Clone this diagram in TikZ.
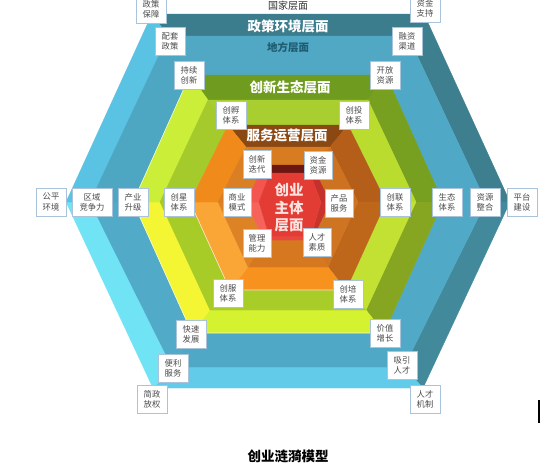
\documentclass[tikz,border=0pt]{standalone}
\usepackage{fontspec}
\newfontfamily\cjk{Noto Sans CJK SC}
% ring colours: t=top, ur, lr, b=bottom, ll, ul
\definecolor{aT}{HTML}{3C7D8D}\definecolor{aUR}{HTML}{3D7E8F}\definecolor{aLR}{HTML}{428A9B}
\definecolor{aB}{HTML}{62CBEA}\definecolor{aLL}{HTML}{70E3F5}\definecolor{aUL}{HTML}{5AC2E2}
\definecolor{bT}{HTML}{51A8C4}\definecolor{bUR}{HTML}{4FA8C5}\definecolor{bLR}{HTML}{50AAC7}
\definecolor{bB}{HTML}{4FA8C5}\definecolor{bLL}{HTML}{51AAC7}\definecolor{bUL}{HTML}{4DA6C2}
\definecolor{cT}{HTML}{6F9C1F}\definecolor{cUR}{HTML}{77A020}\definecolor{cLR}{HTML}{86A622}
\definecolor{cB}{HTML}{D4F22F}\definecolor{cLL}{HTML}{F4F533}\definecolor{cUL}{HTML}{CBEE38}
\definecolor{dT}{HTML}{A8CF2F}\definecolor{dUR}{HTML}{BADC2E}\definecolor{dLR}{HTML}{C2E132}
\definecolor{dB}{HTML}{A8CC28}\definecolor{dLL}{HTML}{A7CC28}\definecolor{dUL}{HTML}{A4CB2B}
\definecolor{eT}{HTML}{8A4813}\definecolor{eUR}{HTML}{B55E19}\definecolor{eLR}{HTML}{BE661A}
\definecolor{eB}{HTML}{F7921E}\definecolor{eLL}{HTML}{FAA637}\definecolor{eUL}{HTML}{F08A1B}
\definecolor{fT}{HTML}{D87C21}\definecolor{fUR}{HTML}{CC7220}\definecolor{fLR}{HTML}{CF7420}
\definecolor{fB}{HTML}{D5781F}\definecolor{fLL}{HTML}{DD8326}\definecolor{fUL}{HTML}{DA7F23}
\definecolor{gT}{HTML}{6C1712}\definecolor{gUR}{HTML}{C4302A}\definecolor{gLR}{HTML}{C8342C}
\definecolor{gB}{HTML}{E94840}\definecolor{gLL}{HTML}{F5635A}\definecolor{gUL}{HTML}{F2564E}
\definecolor{gFace}{HTML}{E23C35}
\definecolor{lblb}{HTML}{A9C3DA}\definecolor{lblt}{HTML}{4A4A4A}
\definecolor{difang}{HTML}{1E5C70}\definecolor{redtxt}{HTML}{FCE3DF}
\newcommand{\hexpts}[7]{%
  \coordinate (#1TL) at ({#2-#5},#3);
  \coordinate (#1TR) at ({#2+#5},#3);
  \coordinate (#1R) at ({#2+#7},202);
  \coordinate (#1BR) at ({#2+#6},#4);
  \coordinate (#1BL) at ({#2-#6},#4);
  \coordinate (#1L) at ({#2-#7},202);}
\newcommand{\ringfill}[8]{%
  \filldraw[fill=#3,draw=#3,line width=0.3pt] (#1TL) -- (#1TR) -- (#2TR) -- (#2TL) -- cycle;
  \filldraw[fill=#4,draw=#4,line width=0.3pt] (#1TR) -- (#1R) -- (#2R) -- (#2TR) -- cycle;
  \filldraw[fill=#5,draw=#5,line width=0.3pt] (#1R) -- (#1BR) -- (#2BR) -- (#2R) -- cycle;
  \filldraw[fill=#6,draw=#6,line width=0.3pt] (#1BR) -- (#1BL) -- (#2BL) -- (#2BR) -- cycle;
  \filldraw[fill=#7,draw=#7,line width=0.3pt] (#1BL) -- (#1L) -- (#2L) -- (#2BL) -- cycle;
  \filldraw[fill=#8,draw=#8,line width=0.3pt] (#1L) -- (#1TL) -- (#2TL) -- (#2L) -- cycle;}
\begin{document}
\begin{tikzpicture}[x=1pt,y=-1pt,
  lbl/.style={draw=lblb, fill=white, line width=0.6pt, text=lblt,
    font=\cjk\fontsize{8.3}{10.2}\selectfont, align=center,
    minimum width=30pt, minimum height=28pt, inner sep=1pt},
  lblw/.style={lbl, minimum width=40pt},
  ttl/.style={text=white, font=\cjk\bfseries\fontsize{13.5}{15}\selectfont},
  hl/.style={draw=white, line width=0.6pt, opacity=0.75}]
\useasboundingbox (0,0) rectangle (540,471);
\fill[white] (0,0) rectangle (540,471);
% boundary hexagons: name, cx, top, bottom, half-top, half-bottom, half-mid
\hexpts{hA}{288}{14}{388}{136}{135}{222}
\hexpts{hB}{288}{36}{367}{120}{116}{198}
\hexpts{hC}{288}{75}{333}{98}{96}{155}
\hexpts{hD}{288}{100}{310}{80}{78}{128}
\hexpts{hE}{288}{125}{290}{60}{58}{98}
\hexpts{hF}{288}{147}{267}{42}{40}{70}
\hexpts{hG}{288}{165}{240}{24}{24}{42}
\hexpts{hH}{290}{173}{236}{20}{21}{31}
% rings
\ringfill{hA}{hB}{aT}{aUR}{aLR}{aB}{aLL}{aUL}
\ringfill{hB}{hC}{bT}{bUR}{bLR}{bB}{bLL}{bUL}
\ringfill{hC}{hD}{cT}{cUR}{cLR}{cB}{cLL}{cUL}
\ringfill{hD}{hE}{dT}{dUR}{dLR}{dB}{dLL}{dUL}
\ringfill{hE}{hF}{eT}{eUR}{eLR}{eB}{eLL}{eUL}
\ringfill{hF}{hG}{fT}{fUR}{fLR}{fB}{fLL}{fUL}
\ringfill{hG}{hH}{gT}{gUR}{gLR}{gB}{gLL}{gUL}
\filldraw[fill=gFace,draw=gFace,line width=0.3pt] (hHTL) -- (hHTR) -- (hHR) -- (hHBR) -- (hHBL) -- (hHL) -- cycle;
% highlights
\draw[hl] (hCTL) -- (hCL) -- (hCBL) -- (hCBR);
\draw[hl] (hEL) -- (hEBL) -- (hEBR);
% artifact bar at right edge
\fill[black] (537.6,400) rectangle (539.6,423);
% layer titles
\node[text=black!80, font=\cjk\fontsize{10}{12}\selectfont] (tGuojia) at (288,5.5) {国家层面};
\node[ttl] (tZhengce) at (288,26) {政策环境层面};
\node[text=difang, font=\cjk\bfseries\fontsize{10.5}{12}\selectfont] (tDifang) at (288,47.5) {地方层面};
\node[ttl] (tShengtai) at (290,87) {创新生态层面};
\node[ttl] (tFuwu) at (287,135.5) {服务运营层面};
\node[text=redtxt, align=center, font=\cjk\bfseries\fontsize{14.5}{17.5}\selectfont] (tZhuti) at (289,208) {创业\\主体\\层面};
% outer labels (national)
\node[lbl] (zcbz) at (151,9) {政策\\保障};
\node[lbl] (zjzc) at (425,8) {资金\\支持};
\node[lbl] (gphj) at (51,202) {公平\\环境};
\node[lbl] (ptjs) at (522,202) {平台\\建设};
\node[lbl] (jzfq) at (152,399) {简政\\放权};
\node[lbl] (rcjz) at (425,399) {人才\\机制};
% local labels
\node[lbl] (ptzc) at (170,41) {配套\\政策};
\node[lbl] (rzqd) at (407,41) {融资\\渠道};
\node[lblw] (qyjz) at (92,202) {区域\\竞争力};
\node[lbl] (zyzh) at (485,202) {资源\\整合};
\node[lbl] (blfw) at (173,368) {便利\\服务};
\node[lbl] (xyrc) at (402,365) {吸引\\人才};
% ecosystem outer labels
\node[lbl] (cxcx) at (189,75) {持续\\创新};
\node[lbl] (kfzy) at (385,75) {开放\\资源};
\node[lbl] (cysj) at (133,202) {产业\\升级};
\node[lbl] (sttx) at (447,202) {生态\\体系};
\node[lbl] (ksfz) at (191,334) {快速\\发展};
\node[lbl] (jzzz) at (385,333) {价值\\增长};
% ecosystem inner labels
\node[lbl] (cfutx) at (231,115) {创孵\\体系};
\node[lbl] (cttx) at (354,115) {创投\\体系};
\node[lbl] (cxtx) at (179,202) {创星\\体系};
\node[lbl] (cltx) at (395,202) {创联\\体系};
\node[lbl] (cfwtx) at (228,293) {创服\\体系};
\node[lbl] (cptx) at (348,294) {创培\\体系};
% core labels
\node[lbl, minimum width=28pt] (cxdd) at (257,164) {创新\\迭代};
\node[lbl, minimum width=28pt] (zjzy) at (318,165) {资金\\资源};
\node[lbl, minimum width=28pt] (syms) at (237,202) {商业\\模式};
\node[lbl, minimum width=28pt] (cpfw) at (339,203) {产品\\服务};
\node[lbl, minimum width=28pt] (glnl) at (257,243) {管理\\能力};
\node[lbl, minimum width=28pt] (rcsz) at (317,242) {人才\\素质};
% caption
\node[text=black, font=\cjk\bfseries\fontsize{13.5}{15}\selectfont] (caption) at (288,456) {创业涟漪模型};
\end{tikzpicture}
\end{document}
